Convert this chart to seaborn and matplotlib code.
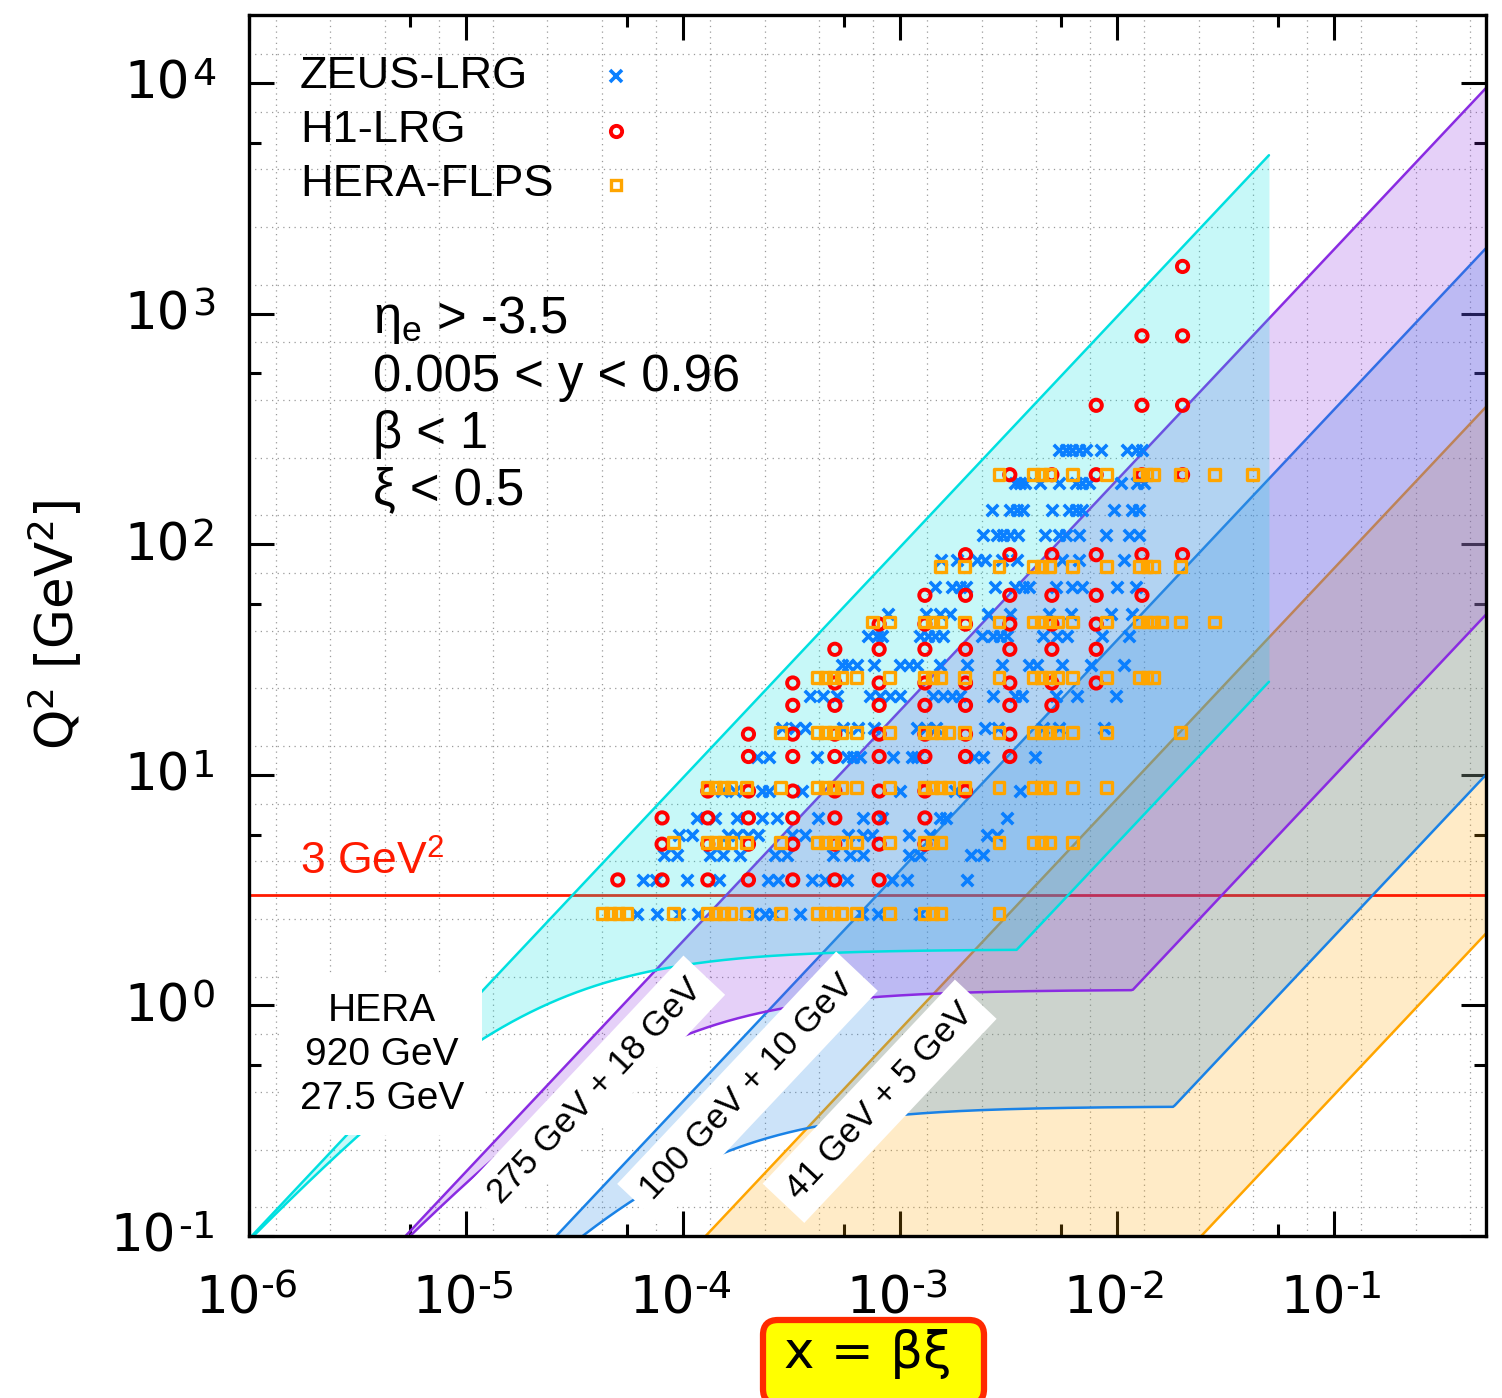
import numpy as np
import pandas as pd
import matplotlib
matplotlib.use("Agg")
import matplotlib.pyplot as plt
import seaborn as sns
from matplotlib.patches import FancyBboxPatch
from matplotlib.transforms import IdentityTransform
from matplotlib.ticker import FixedLocator, NullFormatter

# ---------------------------------------------------------------- data
# ZEUS-LRG: Q2 rows and the x values measured in each row
zeus_q2 = [2.5, 3.5, 4.5, 5.5, 6.5, 8.5, 12, 16, 22, 30, 40, 50, 65, 85, 110, 140, 185, 255]
zeus_x = [
    [6.1e-5, 7.6e-5, 9.6e-5, 1.17e-4, 2.09e-4, 2.38e-4, 2.59e-4, 3.44e-4, 6.64e-4, 7.87e-4, 1.23e-3],
    [6.5e-5, 7.5e-5, 1.04e-4, 1.47e-4, 2.45e-4, 2.73e-4, 3.91e-4, 4.49e-4, 5.67e-4, 9.13e-4, 1.07e-3, 2.04e-3],
    [8.2e-5, 9.4e-5, 1.33e-4, 1.52e-4, 1.82e-4, 2.64e-4, 3.0e-4, 4.88e-4, 5.85e-4, 6.71e-4, 1.10e-3, 1.23e-3,
     2.13e-3, 2.40e-3],
    [9.6e-5, 1.10e-4, 1.61e-4, 1.78e-4, 1.98e-4, 2.21e-4, 3.16e-4, 3.63e-4, 5.73e-4, 6.71e-4, 7.38e-4, 1.10e-3,
     1.37e-3, 2.50e-3, 2.79e-3],
    [1.16e-4, 1.40e-4, 1.78e-4, 2.30e-4, 2.70e-4, 4.17e-4, 6.71e-4, 8.29e-4, 1.52e-3, 1.62e-3, 3.10e-3],
    [1.51e-4, 1.73e-4, 2.30e-4, 2.50e-4, 3.52e-4, 9.94e-4, 1.78e-3, 3.55e-3],
    [2.18e-4, 2.50e-4, 4.12e-4, 5.67e-4, 6.04e-4, 6.50e-4, 9.23e-4, 1.13e-3, 1.20e-3, 2.20e-3, 2.40e-3, 4.16e-3],
    [2.84e-4, 3.26e-4, 3.63e-4, 5.43e-4, 6.37e-4, 7.61e-4, 1.20e-3, 1.32e-3, 1.47e-3, 2.45e-3, 2.82e-3, 4.53e-3,
     5.42e-3, 8.7e-3],
    [3.83e-4, 4.39e-4, 5.10e-4, 7.23e-4, 8.04e-4, 8.94e-4, 9.94e-4, 1.41e-3, 1.57e-3, 1.74e-3, 1.88e-3, 2.67e-3,
     3.37e-3, 3.63e-3, 5.25e-3, 6.55e-3, 9.88e-3],
    [5.37e-4, 5.73e-4, 6.30e-4, 7.61e-4, 9.94e-4, 1.10e-3, 1.20e-3, 1.52e-3, 2.04e-3, 2.94e-3, 3.94e-3, 4.29e-3,
     5.59e-3, 7.60e-3, 1.08e-2],
    [7.08e-4, 7.79e-4, 8.29e-4, 1.23e-3, 1.34e-3, 1.44e-3, 1.57e-3, 2.37e-3, 2.67e-3, 2.88e-3, 3.10e-3, 4.53e-3,
     5.30e-3, 5.89e-3, 8.52e-3, 1.13e-2],
    [8.75e-4, 1.32e-3, 1.52e-3, 1.69e-3, 2.53e-3, 3.19e-3, 4.87e-3, 6.15e-3, 9.37e-3, 1.17e-2],
    [1.44e-3, 1.74e-3, 1.88e-3, 2.02e-3, 2.73e-3, 3.37e-3, 3.67e-3, 3.94e-3, 5.25e-3, 6.22e-3, 6.91e-3, 9.99e-3,
     1.22e-2],
    [1.55e-3, 1.82e-3, 2.27e-3, 2.45e-3, 2.94e-3, 3.44e-3, 5.59e-3, 6.69e-3, 1.08e-2],
    [2.40e-3, 2.79e-3, 2.97e-3, 3.19e-3, 3.48e-3, 4.63e-3, 5.42e-3, 5.83e-3, 6.69e-3, 8.89e-3, 1.13e-2, 1.26e-2],
    [2.64e-3, 3.19e-3, 3.44e-3, 3.67e-3, 5.03e-3, 6.02e-3, 6.48e-3, 6.91e-3, 9.67e-3, 1.17e-2, 1.26e-2],
    [3.37e-3, 3.55e-3, 3.75e-3, 4.39e-3, 5.42e-3, 6.48e-3, 6.91e-3, 7.43e-3, 1.04e-2, 1.23e-2, 1.33e-2],
    [5.42e-3, 5.83e-3, 6.22e-3, 6.69e-3, 7.20e-3, 8.43e-3, 1.11e-2, 1.22e-2, 1.30e-2],
]

# H1-LRG
h1_q2 = [3.5, 5, 6.5, 8.5, 12, 15, 20, 25, 35, 45, 60, 90, 200, 400, 800, 1600]
h1_x = [
    [5e-5, 8e-5, 1.3e-4, 2e-4, 3.2e-4, 5e-4, 8e-4],
    [8e-5, 1.3e-4, 2e-4, 3.2e-4, 5e-4, 8e-4, 1.3e-3],
    [8e-5, 1.3e-4, 2e-4, 3.2e-4, 5e-4, 8e-4, 1.3e-3],
    [1.3e-4, 2e-4, 3.2e-4, 5e-4, 8e-4, 1.3e-3, 2e-3],
    [2e-4, 3.2e-4, 5e-4, 8e-4, 1.3e-3, 2e-3, 3.2e-3],
    [2e-4, 3.2e-4, 5e-4, 8e-4, 1.3e-3, 2e-3, 3.2e-3],
    [3.2e-4, 5e-4, 8e-4, 1.3e-3, 2e-3, 3.2e-3, 5e-3],
    [3.2e-4, 5e-4, 8e-4, 1.3e-3, 2e-3, 3.2e-3, 5e-3, 8e-3],
    [5e-4, 8e-4, 1.3e-3, 2e-3, 3.2e-3, 5e-3, 8e-3],
    [8e-4, 1.3e-3, 2e-3, 3.2e-3, 5e-3, 8e-3],
    [1.3e-3, 2e-3, 3.2e-3, 5e-3, 8e-3, 1.3e-2],
    [2e-3, 3.2e-3, 5e-3, 8e-3, 1.3e-2, 2e-2],
    [3.2e-3, 5e-3, 8e-3, 1.3e-2, 2e-2],
    [8e-3, 1.3e-2, 2e-2],
    [1.3e-2, 2e-2],
    [2e-2],
]

# HERA-FLPS
flps_q2 = [2.5, 5.1, 8.8, 15.3, 26.5, 46, 80, 200]
flps_x = [
    [4.26e-5, 4.64e-5, 5.05e-5, 5.5e-5, 9.0e-5, 1.30e-4, 1.41e-4, 1.53e-4, 1.66e-4, 1.96e-4, 2.81e-4,
     4.17e-4, 4.53e-4, 4.93e-4, 5.37e-4, 6.3e-4, 8.94e-4, 1.29e-3, 1.41e-3, 1.54e-3, 2.85e-3],
    [9.0e-5, 1.30e-4, 1.41e-4, 1.53e-4, 1.66e-4, 1.96e-4, 2.81e-4, 4.17e-4, 4.53e-4, 4.93e-4, 5.37e-4,
     6.3e-4, 8.94e-4, 1.29e-3, 1.41e-3, 1.54e-3, 2.85e-3, 4.1e-3, 4.48e-3, 4.87e-3, 6.2e-3],
    [1.30e-4, 1.41e-4, 1.53e-4, 1.66e-4, 1.96e-4, 2.81e-4, 4.17e-4, 4.53e-4, 4.93e-4, 5.37e-4, 6.3e-4,
     8.94e-4, 1.29e-3, 1.41e-3, 1.54e-3, 1.67e-3, 1.98e-3, 2.85e-3, 4.1e-3, 4.48e-3, 4.87e-3, 6.2e-3, 8.9e-3],
    [2.81e-4, 4.17e-4, 4.53e-4, 4.93e-4, 5.37e-4, 6.3e-4, 8.94e-4, 1.29e-3, 1.41e-3, 1.54e-3, 1.67e-3,
     1.98e-3, 2.85e-3, 4.1e-3, 4.48e-3, 4.87e-3, 5.3e-3, 6.2e-3, 8.9e-3, 1.96e-2],
    [4.17e-4, 4.53e-4, 4.93e-4, 5.37e-4, 6.3e-4, 8.94e-4, 1.29e-3, 1.41e-3, 1.54e-3, 1.98e-3, 2.85e-3,
     4.1e-3, 4.48e-3, 4.87e-3, 5.3e-3, 6.2e-3, 8.9e-3, 1.27e-2, 1.37e-2, 1.47e-2],
    [7.46e-4, 8.94e-4, 1.29e-3, 1.41e-3, 1.54e-3, 1.98e-3, 2.85e-3, 4.1e-3, 4.48e-3, 4.87e-3, 5.3e-3,
     6.2e-3, 8.9e-3, 1.27e-2, 1.37e-2, 1.47e-2, 1.6e-2, 1.96e-2, 2.8e-2],
    [1.54e-3, 1.98e-3, 2.85e-3, 4.1e-3, 4.48e-3, 4.87e-3, 6.2e-3, 8.9e-3, 1.27e-2, 1.37e-2, 1.47e-2, 1.96e-2],
    [2.85e-3, 4.1e-3, 4.48e-3, 4.87e-3, 6.2e-3, 8.9e-3, 1.27e-2, 1.37e-2, 1.47e-2, 1.96e-2, 2.8e-2, 4.2e-2],
]

# Facilities (kinematic reach): beam energies, cuts
facility_labels = ["HERA\n920 GeV\n27.5 GeV", "275 GeV + 18 GeV", "100 GeV + 10 GeV", "41 GeV + 5 GeV"]
proton_E = [920, 275, 100, 41]
electron_E = [27.5, 18, 10, 5]
eta_plateau_q2 = [1.75, 1.17, 0.365, 0.09]   # Q2 level reached by the eta_e > -3.5 cut
x_upper = [0.05, 0.5, 0.5, 0.5]
y_min, y_max = 0.005, 0.96
q2_cut = 3.0

# axis ticks (decades) and tick-label exponents
x_tick_exp = [-6, -5, -4, -3, -2, -1]
y_tick_exp = [-1, 0, 1, 2, 3, 4]

facility_colors = ["#00e0e0", "#8a2be2", "#1a82e6", "#ffa500"]
facility_z = [4, 3, 2, 1]

# ---------------------------------------------------------------- style
sns.set_style("ticks")
plt.rcParams["font.family"] = ["DejaVu Sans"]
plt.rcParams["mathtext.fontset"] = "dejavusans"
plt.rcParams["mathtext.rm"] = "Liberation Sans"
plt.rcParams["mathtext.it"] = "Liberation Sans"
for key in ["text.color", "axes.labelcolor", "xtick.color", "ytick.color", "axes.edgecolor"]:
    plt.rcParams[key] = "black"
SANS = ["Liberation Sans", "DejaVu Sans"]
PX = 0.72  # points per pixel at dpi 100

W, H = 1502, 1398
fig = plt.figure(figsize=(W / 100, H / 100), dpi=100)
ax = fig.add_axes([249 / W, 1 - 1236 / H, (1486 - 249) / W, (1236 - 15) / H])
ax.set_xscale("log")
ax.set_yscale("log")
ax.set_xlim(1e-6, 0.5)
ax.set_ylim(0.1, 1.97e4)

# grid (offset dotted grid as in the reference)
for lv in np.arange(-5.875, -0.3, 0.25):
    ax.axvline(10 ** lv, color="#9a9a9a", lw=0.9, ls=(0, (1, 3.5)), zorder=0.5)
for lv in np.arange(-0.875, 4.2, 0.25):
    ax.axhline(10 ** lv, color="#9a9a9a", lw=0.9, ls=(0, (1, 3.5)), zorder=0.5)

# facility bands
for Ep, Ee, A, xm, col, z in zip(proton_E, electron_E, eta_plateau_q2, x_upper, facility_colors, facility_z):
    s = 4.0 * Ep * Ee
    xx = np.geomspace(1e-7, xm, 800)
    curve = A * s * xx / (s * xx + A)
    lower = np.maximum(curve, y_min * s * xx)
    upper = y_max * s * xx
    ok = lower <= upper
    xx, lower, upper = xx[ok], lower[ok], upper[ok]
    ax.fill_between(xx, lower, upper, color=col, alpha=0.22, lw=0, zorder=z)
    ax.plot(xx, upper, color=col, lw=1.8, zorder=z + 0.1)
    ax.plot(xx, lower, color=col, lw=1.8, zorder=z + 0.1)

ax.axhline(q2_cut, color="#ff1a00", lw=2.0, zorder=1.5)

# facility labels
ax.text(0.1075, 0.1482, facility_labels[0], transform=ax.transAxes, ha="center", va="center",
        fontsize=28, family=SANS, linespacing=1.3, zorder=5,
        bbox=dict(boxstyle="square,pad=0.45", fc="white", ec="none"))
for lab, (lx, ly) in zip(facility_labels[1:], [(3.92e-5, 0.424), (1.98e-4, 0.441), (8.04e-4, 0.384)]):
    ax.text(lx, ly, lab, rotation=46.7, rotation_mode="anchor", ha="center", va="center",
            fontsize=25, family=SANS, zorder=5,
            bbox=dict(boxstyle="square,pad=0.35", fc="white", ec="none"))


# data points
def expand(q_rows, x_rows):
    xs, qs = [], []
    for q, row in zip(q_rows, x_rows):
        xs.extend(row)
        qs.extend([q] * len(row))
    return pd.DataFrame({"x": xs, "Q2": qs})


df_z = expand(zeus_q2, zeus_x)
df_h = expand(h1_q2, h1_x)
df_f = expand(flps_q2, flps_x)

sns.scatterplot(data=df_z, x="x", y="Q2", marker="x", color="#0a7fff", s=68, linewidth=2.6,
                ax=ax, zorder=6, legend=False)
sns.scatterplot(data=df_h, x="x", y="Q2", marker="o", facecolor="none", edgecolor="#ff0000", s=66,
                linewidth=2.8, ax=ax, zorder=6.1, legend=False)
sns.scatterplot(data=df_f, x="x", y="Q2", marker="s", facecolor="none", edgecolor="#ffa500", s=60,
                linewidth=2.4, ax=ax, zorder=6.2, legend=False)

# manual legend (text left, sample right)
leg_rows = [("ZEUS-LRG", 0.950, dict(marker="x", color="#0a7fff", mew=2.6, ms=8.2)),
            ("H1-LRG", 0.905, dict(marker="o", mfc="none", mec="#ff0000", mew=2.8, ms=8.1)),
            ("HERA-FLPS", 0.861, dict(marker="s", mfc="none", mec="#ffa500", mew=2.4, ms=7.7))]
for txt, yy, mk in leg_rows:
    ax.text(0.0412, yy, txt, transform=ax.transAxes, ha="left", va="center", fontsize=32.5,
            family=SANS, zorder=7)
    ax.plot([0.2967], [yy], transform=ax.transAxes, ls="none", zorder=7, clip_on=False, **mk)

# cuts
cut_lines = [r"η$_{\mathrm{e}}$ > -3.5", "0.005 < y < 0.96", "β < 1", "ξ < 0.5"]
for txt, yy in zip(cut_lines, [0.7502, 0.7035, 0.6568, 0.6102]):
    ax.text(0.1002, yy, txt, transform=ax.transAxes, ha="left", va="center", fontsize=36.5,
            family=SANS, math_fontfamily="custom", zorder=7)

ax.text(0.0412, 0.3063, r"3 GeV$^{2}$", transform=ax.transAxes, ha="left", va="center",
        fontsize=32, color="#ff1a00", family=SANS, math_fontfamily="custom", zorder=7)

# axes and ticks
for sp in ax.spines.values():
    sp.set_linewidth(2.4)
    sp.set_color("black")
    sp.set_zorder(8)
ax.xaxis.set_major_locator(FixedLocator([10.0 ** e for e in x_tick_exp]))
ax.yaxis.set_major_locator(FixedLocator([10.0 ** e for e in y_tick_exp]))
ax.xaxis.set_minor_locator(FixedLocator([5.5 * 10.0 ** e for e in x_tick_exp[:-1]]))
ax.yaxis.set_minor_locator(FixedLocator([5.5 * 10.0 ** e for e in y_tick_exp[:-1]]))
ax.xaxis.set_major_formatter(NullFormatter())
ax.yaxis.set_major_formatter(NullFormatter())
ax.xaxis.set_minor_formatter(NullFormatter())
ax.yaxis.set_minor_formatter(NullFormatter())
ax.tick_params(which="major", direction="in", length=18, width=2.2, top=True, right=True, colors="black")
ax.tick_params(which="minor", direction="in", length=8.5, width=2.2, top=True, right=True, colors="black")
ax.set_xlabel("")
ax.set_ylabel("")

# tick labels "10" + large raised exponent (gnuplot look)
for e in x_tick_exp:
    v = 10.0 ** e
    ax.annotate("10", xy=(v, 0), xycoords=("data", "axes fraction"), xytext=(-21 * PX, -77 * PX),
                textcoords="offset points", ha="center", va="baseline", fontsize=37)
    ax.annotate(f"{e}", xy=(v, 0), xycoords=("data", "axes fraction"), xytext=(11 * PX, -62 * PX),
                textcoords="offset points", ha="left", va="baseline", fontsize=27.5)
for e in y_tick_exp:
    v = 10.0 ** e
    ex = ax.annotate(f"{e}", xy=(0, v), xycoords=("axes fraction", "data"), xytext=(-33 * PX, -2 * PX),
                     textcoords="offset points", ha="right", va="baseline", fontsize=27.5)
    ax.annotate("10", xy=(0, 0), xycoords=ex, xytext=(-2 * PX, -6 * PX),
                textcoords="offset points", ha="right", va="baseline", fontsize=37)

# axis titles
fig.text(56 / W, 1 - 625 / H, r"Q$^2$ [GeV$^2$]", rotation=90, ha="center", va="center", fontsize=37,
         color="black")
box = FancyBboxPatch((763, -6), 221, 84, boxstyle="round,pad=0,rounding_size=15",
                     fc="#ffff00", ec="#ff2a00", lw=4.5, transform=IdentityTransform())
fig.patches.append(box)
fig.text(868 / W, 1 - 1354 / H, "x = βξ", ha="center", va="center", fontsize=37, color="black")

fig.savefig("out.png", dpi=100)
